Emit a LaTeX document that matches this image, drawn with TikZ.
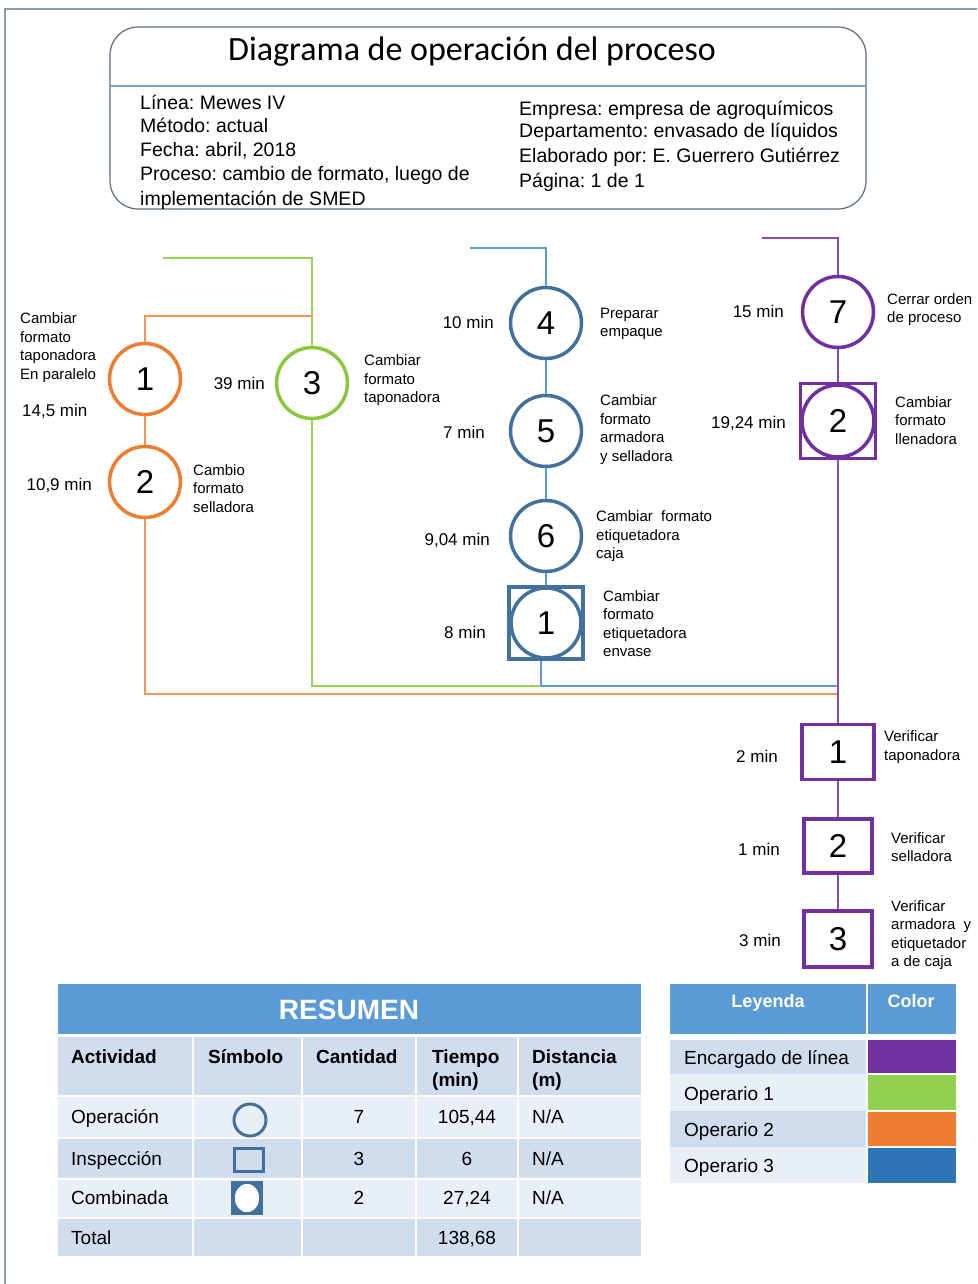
\documentclass[tikz,border=0pt]{standalone}
\usepackage{fontspec}
\usetikzlibrary{shapes.geometric}
\setmainfont{Liberation Sans}
\newfontfamily\titlefont{Carlito}
\frenchspacing
\definecolor{cOr}{HTML}{ED7D31}
\definecolor{cOrL}{HTML}{F2935A}
\definecolor{cGr}{HTML}{8CC63F}
\definecolor{cGrL}{HTML}{9BD35A}
\definecolor{cBl}{HTML}{41719C}
\definecolor{cBlL}{HTML}{5B9BD5}
\definecolor{cPu}{HTML}{7030A0}
\definecolor{cPuL}{HTML}{8A4DB8}
\definecolor{frameC}{HTML}{8A9BB0}
\definecolor{boxC}{HTML}{5F6B78}
\definecolor{divC}{HTML}{7F9CC0}
\definecolor{hdr}{HTML}{5B9BD5}
\definecolor{band}{HTML}{D0DDEE}
\definecolor{lite}{HTML}{E9EFF7}
\definecolor{legPu}{HTML}{7030A0}
\definecolor{legGr}{HTML}{92D050}
\definecolor{legOr}{HTML}{ED7D31}
\definecolor{legBl}{HTML}{2E75B6}
\begin{document}
\begin{tikzpicture}[x=1pt,y=-1pt,
  lbl/.style={font=\fontsize{15}{18.5}\selectfont, align=left, anchor=west, inner sep=0},
  tm/.style={font=\fontsize{17}{20}\selectfont, anchor=east, inner sep=0},
  num/.style={font=\fontsize{33}{33}\selectfont},
  op/.style={circle, draw=#1, line width=3.5pt, fill=white, minimum size=71pt, inner sep=0, num},
  ring/.style={circle, draw=#1, line width=3.5pt, minimum size=70pt, inner sep=0, num},
  insp/.style={rectangle, draw=#1, line width=3.5pt, fill=white, inner sep=0, num},
  comb/.style={rectangle, draw=#1, line width=3.5pt, fill=white, minimum size=75pt, inner sep=0},
  ln/.style={draw=#1, line width=1.3pt},
  hd/.style={font=\fontsize{19.5}{24}\selectfont, anchor=base west, inner sep=0},
  tb/.style={font=\fontsize{19}{23}\selectfont, anchor=base west, inner sep=0},
  tbc/.style={font=\fontsize{19}{23}\selectfont, anchor=base, inner sep=0},
  tbh/.style={font=\fontsize{19}{23}\selectfont\bfseries, anchor=base west, inner sep=0},
  wsep/.style={draw=white, line width=2pt}
]
\useasboundingbox (0,0) rectangle (977,1284);
% outer frame
\draw[frameC, line width=1.5pt] (5,1284) -- (5,9) -- (977,9);

% header box
\draw[boxC, line width=1.2pt, rounded corners=28pt] (110,27) rectangle (866,209);
\draw[divC, line width=1.2pt] (111,86) -- (865,86);
\node[font=\titlefont\fontsize{34}{36}\selectfont, inner sep=0] (title) at (472,52) {Diagrama de operación del proceso};
\node[hd] (h1) at (140,110) {Línea: Mewes IV};
\node[hd] (h2) at (140,133) {Método: actual};
\node[hd] (h3) at (140,157) {Fecha: abril, 2018};
\node[hd] (h4) at (140,181) {Proceso: cambio de formato, luego de};
\node[hd] (h5) at (140,205) {implementación de SMED};
\node[hd] (h6) at (519,116) {Empresa: empresa de agroquímicos};
\node[hd] (h7) at (519,138) {Departamento: envasado de líquidos};
\node[hd] (h8) at (519,163) {Elaborado por: E. Guerrero Gutiérrez};
\node[hd] (h9) at (519,187) {Página: 1 de 1};

% coordinates of connector ends
\coordinate (gS) at (163,258);
\coordinate (oS) at (313,316);
\coordinate (bS) at (470,248);
\coordinate (pS) at (762,238);
\coordinate (gJ) at (541,686);
\coordinate (mJ) at (838,686);
\coordinate (oJ) at (838,694);

% operation nodes
\node[op=cOr] (o1) at (145,379) {1};
\node[op=cOr] (o2) at (145,482) {2};
\node[op=cGr] (g3) at (312,383) {3};
\node[op=cBl] (b4) at (546,323) {4};
\node[op=cBl] (b5) at (546,431) {5};
\node[op=cBl] (b6) at (546,536) {6};
\node[comb=cBl, minimum width=74pt, minimum height=72pt] (bc1) at (546,623) {};
\node[ring=cBl] (bc1r) at (bc1.center) {1};
\node[op=cPu] (p7) at (838,312) {7};
\node[comb=cPu] (pc2) at (838,421) {};
\node[ring=cPu, minimum size=72pt] (pc2r) at (pc2.center) {2};
\node[insp=cPu, minimum width=72pt, minimum height=55pt] (i1) at (838,752) {1};
\node[insp=cPu, minimum width=68pt, minimum height=54pt] (i2) at (838,846) {2};
\node[insp=cPu, minimum width=68pt, minimum height=56pt] (i3) at (838,939) {3};

% connectors
\draw[ln=cGrL] (gS) -| (g3.north);
\draw[ln=cGrL] (g3.south) |- (gJ);
\draw[ln=cBlL] (gJ) -- (mJ);
\draw[ln=cOrL] (oS) -| (o1.north);
\draw[ln=cOrL] (o1.south) -- (o2.north);
\draw[ln=cOrL] (o2.south) |- (oJ);
\draw[ln=cBlL] (bS) -| (b4.north);
\draw[ln=cBlL] (b4.south) -- (b5.north);
\draw[ln=cBlL] (b5.south) -- (b6.north);
\draw[ln=cBlL] (b6.south) -- (bc1.north);
\draw[ln=cBlL] (gJ |- bc1.south) -- (gJ);
\draw[ln=cPuL] (pS) -| (p7.north);
\draw[ln=cPuL] (p7.south) -- (pc2.north);
\draw[ln=cPuL] (pc2.south) -- (i1.north);
\draw[ln=cPuL] (i1.south) -- (i2.north);
\draw[ln=cPuL] (i2.south) -- (i3.north);

% labels
\node[lbl] (t1) at (20,347.5) {Cambiar\\formato\\taponadora\\En paralelo};
\node[lbl] (t2) at (193,488.5) {Cambio\\formato\\selladora};
\node[lbl] (t3) at (364,380.5) {Cambiar\\formato\\taponadora};
\node[lbl] (t4) at (600,324) {Preparar\\empaque};
\node[lbl] (t5) at (600,429.5) {Cambiar\\formato\\armadora\\y selladora};
\node[lbl] (t6) at (596,536.5) {Cambiar\ \ formato\\etiquetadora\\caja};
\node[lbl] (t7) at (603,623.5) {Cambiar\\formato\\etiquetadora\\envase};
\node[lbl] (t8) at (887,309.5) {Cerrar orden\\de proceso};
\node[lbl] (t9) at (895,420.5) {Cambiar\\formato\\llenadora};
\node[lbl] (t10) at (884,747) {Verificar\\taponadora};
\node[lbl] (t11) at (891,847) {Verificar\\selladora};
\node[lbl] (t12) at (891,935) {Verificar\\armadora\ \ y\\etiquetador\\a de caja};

\node[tm, anchor=west] (m1) at (22,411) {14,5 min};
\node[tm] (m2) at (265,383) {39 min};
\node[tm] (m3) at (92,485) {10,9 min};
\node[tm] (m4) at (494,322) {10 min};
\node[tm] (m5) at (485,432) {7 min};
\node[tm] (m6) at (490,540) {9,04 min};
\node[tm] (m7) at (486,632) {8 min};
\node[tm] (m8) at (784,311) {15 min};
\node[tm] (m9) at (786,423) {19,24 min};
\node[tm] (m10) at (778,756) {2 min};
\node[tm] (m11) at (780,849) {1 min};
\node[tm] (m12) at (781,940) {3 min};

% ===== RESUMEN table =====
\fill[hdr] (58,984) rectangle (641,1034);
\fill[band] (58,1037) rectangle (641,1096);
\fill[lite] (58,1096) rectangle (641,1138);
\fill[band] (58,1138) rectangle (641,1179);
\fill[lite] (58,1179) rectangle (641,1218);
\fill[band] (58,1218) rectangle (641,1256);
\foreach \xx in {193,302,416,518} \draw[wsep] (\xx,1037) -- (\xx,1256);
\foreach \yy in {1096,1138,1179,1218} \draw[wsep] (58,\yy) -- (641,\yy);
\node[font=\fontsize{28}{30}\selectfont\bfseries, text=white, anchor=base, inner sep=0] (res) at (349,1019) {RESUMEN};
\node[tbh] (c1) at (71,1063) {Actividad};
\node[tbh] (c2) at (208,1063) {Símbolo};
\node[tbh] (c3) at (316,1063) {Cantidad};
\node[tbh] (c4) at (432,1063) {Tiempo};
\node[tbh] (c4b) at (432,1086) {(min)};
\node[tbh] (c5) at (532,1063) {Distancia};
\node[tbh] (c5b) at (532,1086) {(m)};
\node[tb] (r1) at (71,1123) {Operación};
\node[tb] (r2) at (71,1165) {Inspección};
\node[tb] (r3) at (71,1204) {Combinada};
\node[tb] (r4) at (71,1244) {Total};
\node[tbc] (q1) at (359,1123) {7};
\node[tbc] (q2) at (359,1165) {3};
\node[tbc] (q3) at (359,1204) {2};
\node[tbc] (z1) at (467,1123) {105,44};
\node[tbc] (z2) at (467,1165) {6};
\node[tbc] (z3) at (467,1204) {27,24};
\node[tbc] (z4) at (467,1244) {138,68};
\node[tb] (d1) at (532,1123) {N/A};
\node[tb] (d2) at (532,1165) {N/A};
\node[tb] (d3) at (532,1204) {N/A};
% symbols
\node[circle, draw=cBl, line width=3pt, minimum size=32pt, inner sep=0] (s1) at (250,1120) {};
\node[rectangle, draw=cBl, line width=3pt, minimum width=29pt, minimum height=23pt, inner sep=0] (s2) at (249,1160) {};
\node[rectangle, fill=cBl, minimum width=32pt, minimum height=34pt, inner sep=0] (s3) at (247,1198) {};
\node[ellipse, fill=white, draw=cBl, line width=2.5pt, minimum width=27pt, minimum height=31pt, inner sep=0] (s3r) at (s3.center) {};

% ===== Legend table =====
\fill[hdr] (670,984) rectangle (866,1034);
\fill[hdr] (868,984) rectangle (956,1034);
\fill[band] (670,1040) rectangle (866,1074);
\fill[lite] (670,1074) rectangle (866,1111);
\fill[band] (670,1111) rectangle (866,1147);
\fill[lite] (670,1147) rectangle (866,1183);
\fill[legPu] (868,1040) rectangle (956,1073);
\fill[legGr] (868,1075) rectangle (956,1110);
\fill[legOr] (868,1112) rectangle (956,1146);
\fill[legBl] (868,1148) rectangle (956,1183);
\node[font=\fontsize{18}{20}\selectfont\bfseries, text=white, anchor=base, inner sep=0] (lh1) at (768,1007) {Leyenda};
\node[font=\fontsize{18}{20}\selectfont\bfseries, text=white, anchor=base, inner sep=0] (lh2) at (911,1007) {Color};
\node[tb] (l1) at (684,1064) {Encargado de línea};
\node[tb] (l2) at (684,1100) {Operario 1};
\node[tb] (l3) at (684,1136) {Operario 2};
\node[tb] (l4) at (684,1172) {Operario 3};
\end{tikzpicture}
\end{document}
